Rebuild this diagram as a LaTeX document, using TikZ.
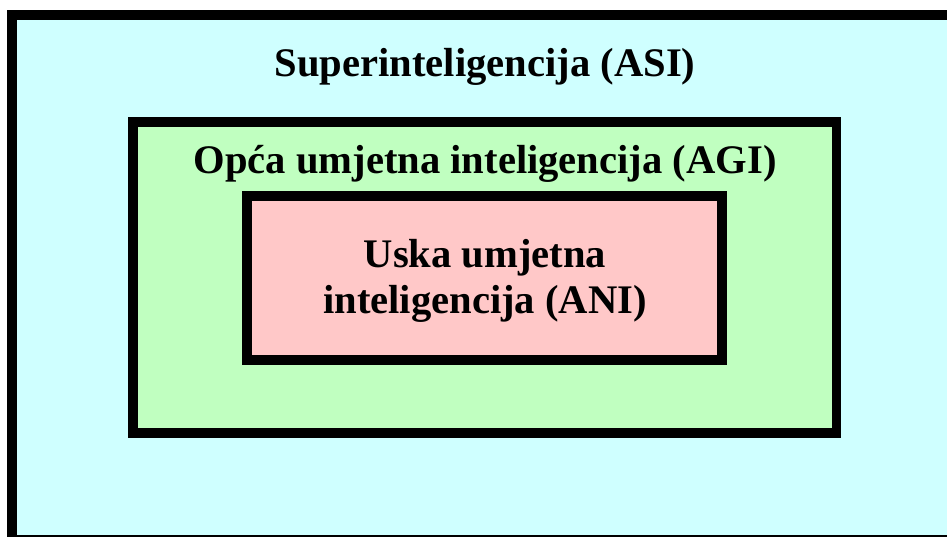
\documentclass[tikz,border=0pt]{standalone}
\usepackage{fontspec}
\setmainfont{Liberation Serif}
\definecolor{asicol}{HTML}{CFFFFF}
\definecolor{agicol}{HTML}{C0FFC0}
\definecolor{anicol}{HTML}{FFC8C8}
\begin{document}
\begin{tikzpicture}[x=1pt,y=-1pt,
  box/.style={draw=black,line width=9.7pt,line join=miter},
  lbl/.style={font=\fontsize{40.6}{46}\selectfont\bfseries,anchor=base,inner sep=0pt,align=center}]
\useasboundingbox (0,0) rectangle (947,537);
\fill[white] (0,0) rectangle (947,537);
\begin{scope}
\clip (0,0) rectangle (947,537);
\draw[box,fill=asicol] (12.3,15.3) rectangle (960,540);
\end{scope}
\draw[box,fill=agicol] (133.3,122.3) rectangle (836.5,433.3);
\draw[box,fill=anicol] (247.3,195.7) rectangle (722.2,360);
\node[lbl] (asi) at (485,77) {Superinteligencija (ASI)};
\node[lbl] (agi) at (485,174) {Opća umjetna inteligencija (AGI)};
\node[lbl] (ani1) at (485,267) {Uska umjetna};
\node[lbl] (ani2) at (485,313) {inteligencija (ANI)};
\end{tikzpicture}
\end{document}
